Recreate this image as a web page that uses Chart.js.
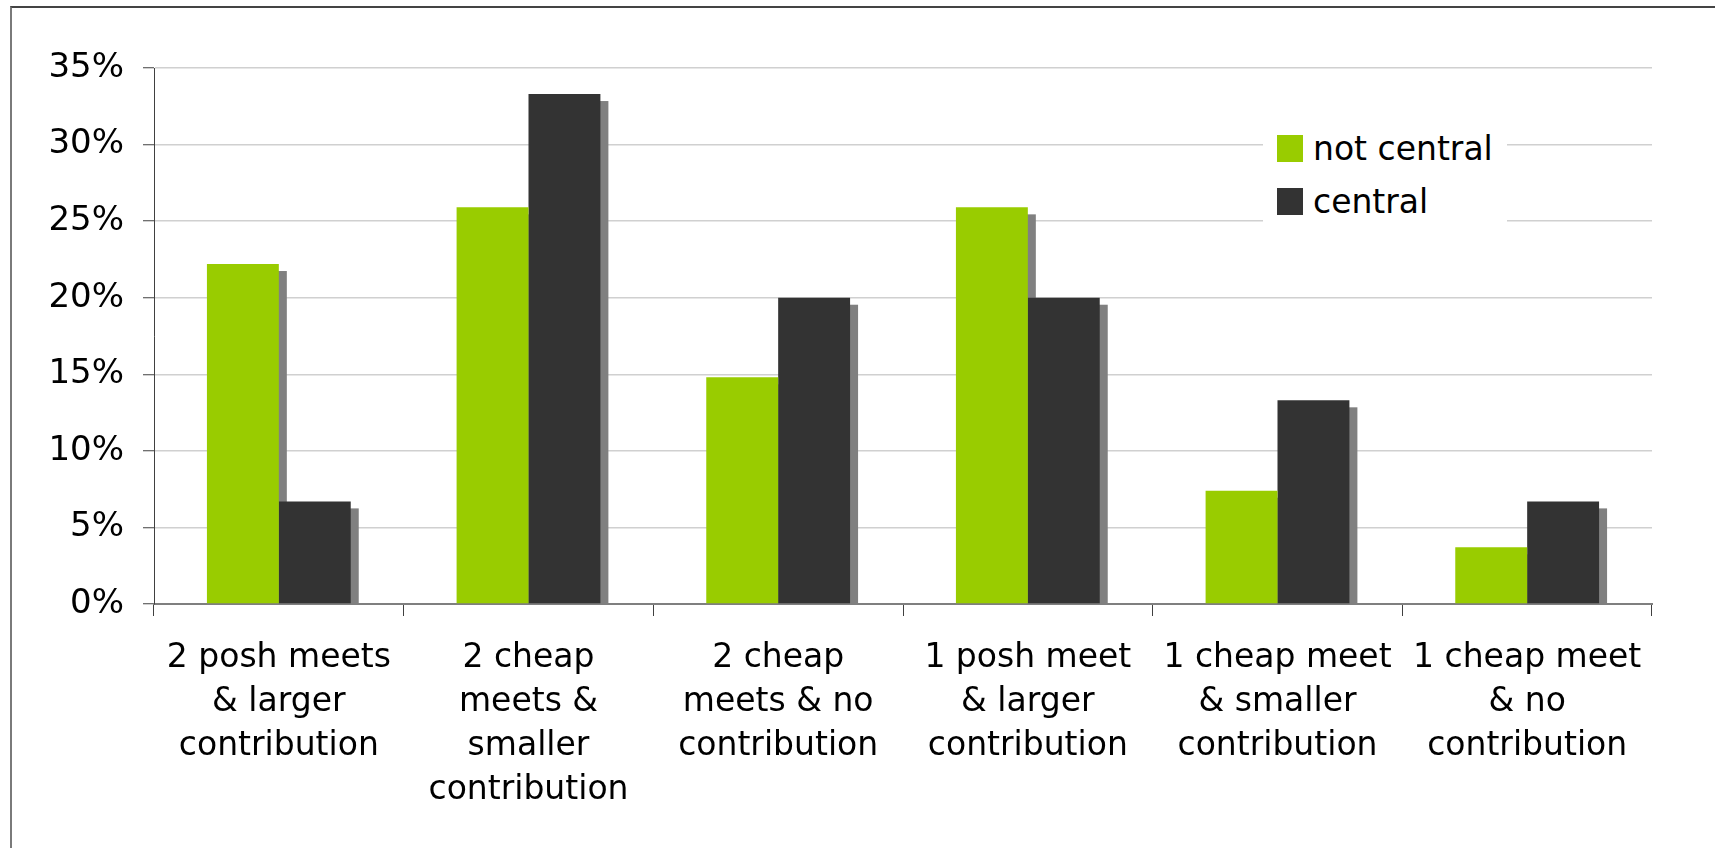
<!DOCTYPE html>
<html>
<head>
<meta charset="utf-8">
<script src="https://cdn.jsdelivr.net/npm/chart.js@4/dist/chart.umd.min.js"></script>
<style>
  html,body{margin:0;padding:0;background:#fff;}
  #wrap{position:relative;width:1715px;height:848px;overflow:hidden;font-family:"DejaVu Sans",Verdana,sans-serif;}
  #frame{position:absolute;left:10px;top:6px;width:1800px;height:900px;border-top:2px solid #444;border-left:2px solid #7a7a7a;}
  #chart{position:absolute;left:0;top:0;}
  #legend{position:absolute;left:1263px;top:118px;width:244px;height:116px;background:#fff;}
  .lg-item{position:absolute;left:14px;height:27px;}
  .lg-box{position:absolute;left:0;top:0;width:26px;height:27px;}
  .lg-text{position:absolute;left:36px;top:0;line-height:27px;font-size:33px;color:#000;white-space:nowrap;}
</style>
</head>
<body>
<div id="wrap">
  <div id="frame"></div>
  <canvas id="chart" width="1715" height="848"></canvas>
  <div id="legend"></div>
</div>
<script>
const CATEGORIES=[
  ['2 posh meets','& larger','contribution'],
  ['2 cheap','meets &','smaller','contribution'],
  ['2 cheap','meets & no','contribution'],
  ['1 posh meet','& larger','contribution'],
  ['1 cheap meet','& smaller','contribution'],
  ['1 cheap meet','& no','contribution'],
];
const NOT_CENTRAL=[22.2,25.9,14.8,25.9,7.4,3.7];
const CENTRAL=[6.7,33.3,20.0,20.0,13.3,6.7];
const Y_TICKS=[0,5,10,15,20,25,30,35];

// grey drop shadow behind every bar, offset right/down like the office chart
const barShadow={
  id:'barShadow',
  beforeDatasetsDraw(chart){
    const ctx=chart.ctx;
    ctx.save();
    ctx.fillStyle='#808080';
    chart.data.datasets.forEach((ds,i)=>{
      chart.getDatasetMeta(i).data.forEach(bar=>{
        const p=bar.getProps(['x','y','base','width'],true);
        const top=p.y+7;
        if(p.base>top) ctx.fillRect(p.x-p.width/2+8,top,p.width,p.base-top);
      });
    });
    ctx.restore();
  }
};

const chart=new Chart(document.getElementById('chart'),{
  type:'bar',
  data:{labels:CATEGORIES,datasets:[
    {label:'not central',data:NOT_CENTRAL,backgroundColor:'#99CC00',borderWidth:0},
    {label:'central',data:CENTRAL,backgroundColor:'#333333',borderWidth:0},
  ]},
  options:{
    responsive:false,animation:false,
    layout:{padding:{top:68,right:63,left:0,bottom:0}},
    datasets:{bar:{categoryPercentage:0.576,barPercentage:1}},
    plugins:{legend:{display:false},tooltip:{enabled:false}},
    scales:{
      x:{
        afterFit:s=>{s.height=244;},
        grid:{offset:true,drawOnChartArea:false,tickLength:12,color:'#404040',lineWidth:1},
        border:{color:'#7f7f7f',width:2},
        ticks:{color:'#000',padding:20,maxRotation:0,autoSkip:false,font:{family:'"DejaVu Sans",Verdana,sans-serif',size:33,lineHeight:44/33}}
      },
      y:{
        min:0,max:35,
        afterFit:s=>{s.width=154;},
        afterBuildTicks:s=>{s.ticks=Y_TICKS.map(v=>({value:v}));},
        grid:{color:'#d0d0d0',lineWidth:1.5,tickLength:11,tickColor:'#404040',tickWidth:1},
        border:{color:'#404040',width:1},
        ticks:{color:'#000',padding:19,callback:v=>v+'%',font:{family:'"DejaVu Sans",Verdana,sans-serif',size:34}}
      }
    }
  },
  plugins:[barShadow]
});

const lg=document.getElementById('legend');
chart.data.datasets.forEach((ds,i)=>{
  const it=document.createElement('div');
  it.className='lg-item';
  it.style.top=(17+i*53)+'px';
  it.innerHTML=`<div class="lg-box" style="background:${ds.backgroundColor}"></div><div class="lg-text">${ds.label}</div>`;
  lg.appendChild(it);
});
</script>
</body>
</html>
